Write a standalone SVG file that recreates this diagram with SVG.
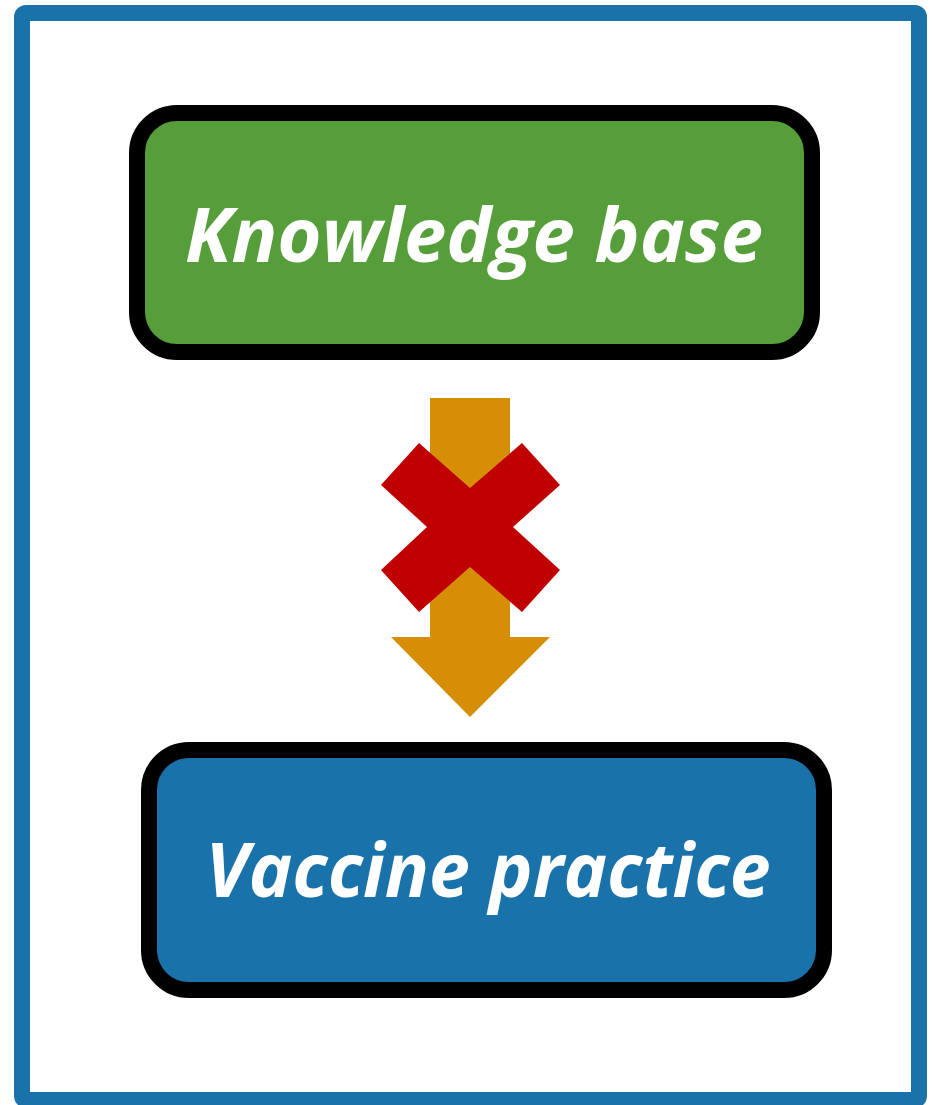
<svg xmlns="http://www.w3.org/2000/svg" width="934" height="1105" viewBox="0 0 934 1105">
<style>
.box{stroke:#000;stroke-width:16}
.lbl{font-family:"Open Sans","Liberation Sans",sans-serif;font-weight:bold;font-style:italic;font-size:76px;fill:#fff;text-anchor:middle}
</style>
<rect width="934" height="1105" fill="#fff"/>
<rect x="22" y="13" width="897" height="1087" rx="4" fill="#fff" stroke="#1A72AA" stroke-width="16"/>
<g id="connectors">
<polygon points="430,398 510,398 510,637 550,637 470,717 391,637 430,637" fill="#D68E07"/>
<polygon points="419,443 470,488 522,443 560,485 513,527 560,570 522,612 470,567 419,612 381,570 427,527 381,485" fill="#C00000"/>
</g>
<g id="knowledge">
<rect class="box" x="137" y="113" width="675" height="239" rx="40" fill="#559E3A"/>
<text class="lbl" x="474" y="262" textLength="578" lengthAdjust="spacingAndGlyphs">Knowledge base</text>
</g>
<g id="vaccine">
<rect class="box" x="149" y="750" width="675" height="240" rx="40" fill="#1A72AA"/>
<text class="lbl" x="488" y="897" textLength="565" lengthAdjust="spacingAndGlyphs">Vaccine practice</text>
</g>
</svg>
